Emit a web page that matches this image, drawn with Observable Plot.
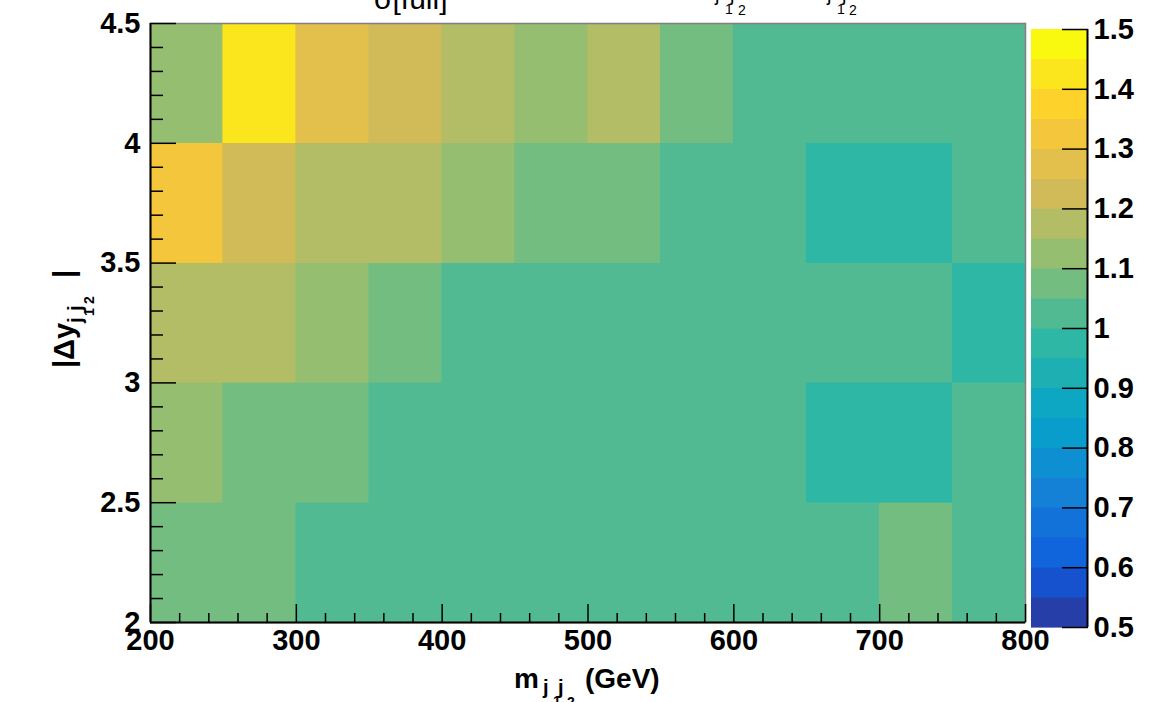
<!DOCTYPE html>
<html>
<head>
<meta charset="utf-8">
<script src="https://cdn.jsdelivr.net/npm/d3@7"></script>
<script src="https://cdn.jsdelivr.net/npm/@observablehq/plot@0.6"></script>
<style>
html, body { margin: 0; padding: 0; background: #fff; }
#wrap { position: relative; width: 1158px; height: 702px; overflow: hidden; background: #fff; }
#wrap svg { position: absolute; top: 0; }
</style>
</head>
<body>
<div id="wrap"></div>
<script>
// ---- data ----
const mjjEdges = [200, 250, 300, 350, 400, 450, 500, 550, 600, 650, 700, 750, 800];
const dyEdges = [2, 2.5, 3, 3.5, 4, 4.5];
// ratio per |Δy| bin (columns follow mjj bins)
const ratioDy2to25  = [1.07, 1.06, 1.02, 1.01, 1.02, 1.03, 1.02, 1.01, 1.02, 1.03, 1.07, 1.02];
const ratioDy25to3  = [1.12, 1.07, 1.06, 1.02, 1.01, 1.02, 1.03, 1.02, 1.01, 0.98, 0.97, 1.02];
const ratioDy3to35  = [1.18, 1.17, 1.12, 1.08, 1.03, 1.02, 1.02, 1.01, 1.02, 1.03, 1.02, 0.97];
const ratioDy35to4  = [1.32, 1.22, 1.18, 1.17, 1.13, 1.08, 1.07, 1.03, 1.02, 0.98, 0.97, 1.02];
const ratioDy4to45  = [1.12, 1.43, 1.27, 1.22, 1.17, 1.12, 1.17, 1.07, 1.02, 1.03, 1.02, 1.01];
const contourLevels = [0.5, 0.55, 0.6, 0.65, 0.7, 0.75, 0.8, 0.85, 0.9, 0.95, 1.0, 1.05, 1.1, 1.15, 1.2, 1.25, 1.3, 1.35, 1.4, 1.45, 1.5];
const xMajorTicks = [200, 300, 400, 500, 600, 700, 800];
const yMajorTicks = [2, 2.5, 3, 3.5, 4, 4.5];
const zTicks = [0.5, 0.6, 0.7, 0.8, 0.9, 1, 1.1, 1.2, 1.3, 1.4, 1.5];

// ---- palette (ROOT kBird, 20 contours) ----
function birdColors() {
  const stops = [0.0, 0.125, 0.25, 0.375, 0.5, 0.625, 0.75, 0.875, 1.0];
  const R = [0.2082, 0.0592, 0.0780, 0.0232, 0.1802, 0.5301, 0.8186, 0.9956, 0.9764];
  const G = [0.1664, 0.3599, 0.5041, 0.6419, 0.7178, 0.7492, 0.7328, 0.7862, 0.9832];
  const B = [0.5293, 0.8684, 0.8385, 0.7914, 0.6425, 0.4662, 0.3499, 0.1968, 0.0539];
  const N = 255, cols = [];
  for (let g = 1; g < stops.length; g++) {
    const n = Math.floor(N * stops[g]) - Math.floor(N * stops[g - 1]);
    for (let c = 0; c < n; c++) {
      cols.push(d3.rgb(
        255 * (R[g - 1] + c * (R[g] - R[g - 1]) / n),
        255 * (G[g - 1] + c * (G[g] - G[g - 1]) / n),
        255 * (B[g - 1] + c * (B[g] - B[g - 1]) / n)).formatHex());
    }
  }
  return cols;
}
const bird = birdColors();
const nLevels = contourLevels.length - 1;
const levelColors = d3.range(nLevels).map(i => bird[Math.floor((i + 0.99) * bird.length / nLevels)]);
const thresholds = contourLevels.slice(1, -1);
const colorScale = {type: "threshold", domain: thresholds, range: levelColors};

// ---- tables ----
const rows = [ratioDy2to25, ratioDy25to3, ratioDy3to35, ratioDy35to4, ratioDy4to45];
const cells = rows.flatMap((row, j) => row.map((v, i) => ({
  x1: mjjEdges[i], x2: mjjEdges[i + 1], y1: dyEdges[j], y2: dyEdges[j + 1], v
})));
const levels = d3.range(nLevels).map(i => ({lo: contourLevels[i], hi: contourLevels[i + 1]}));
const xMinorTicks = d3.range(200, 801, 20).filter(v => v % 100 !== 0);
const yMinorTicks = d3.range(20, 46, 1).map(v => v / 10).filter(v => !yMajorTicks.includes(v));

const FONT = "'Liberation Sans', Arial, Helvetica, sans-serif";
const LABEL_SIZE = 29;

// ---- main histogram ----
const main = Plot.plot({
  width: 1158, height: 702,
  marginLeft: 150, marginRight: 133, marginTop: 23, marginBottom: 80,
  style: {background: "transparent", fontFamily: FONT, fontWeight: "bold", fontSize: LABEL_SIZE + "px", color: "#000", overflow: "visible"},
  x: {domain: [200, 800]},
  y: {domain: [2, 4.5]},
  color: colorScale,
  marks: [
    Plot.rect(cells, {x1: "x1", x2: "x2", y1: "y1", y2: "y2", fill: "v", stroke: "v", strokeWidth: 0.6, shapeRendering: "crispEdges"}),
    Plot.frame({stroke: "#808080", strokeWidth: 1.5}),
    Plot.axisX({ticks: xMajorTicks, tickSize: -18, fill: "none", stroke: "#000", strokeWidth: 1.5, label: null}),
    Plot.axisX({ticks: xMinorTicks, tickSize: -9, fill: "none", stroke: "#000", strokeWidth: 1.5, label: null}),
    Plot.axisX({ticks: xMajorTicks, tickSize: 0, tickPadding: 7, tickFormat: d => String(d), fontSize: LABEL_SIZE, label: null}),
    Plot.axisY({ticks: yMajorTicks, tickSize: -26, fill: "none", stroke: "#000", strokeWidth: 1.5, label: null}),
    Plot.axisY({ticks: yMinorTicks, tickSize: -13, fill: "none", stroke: "#000", strokeWidth: 1.5, label: null}),
    Plot.axisY({ticks: yMajorTicks, tickSize: 0, tickPadding: 10, tickFormat: d => String(d), fontSize: LABEL_SIZE, label: null}),
    Plot.ruleX([200], {stroke: "#000", strokeWidth: 2}),
    Plot.ruleY([2], {stroke: "#000", strokeWidth: 2})
  ]
});
main.style.left = "0px";
document.getElementById("wrap").appendChild(main);

// ---- colour bar ----
const bar = Plot.plot({
  width: 127, height: 702,
  marginLeft: 0, marginRight: 71, marginTop: 29, marginBottom: 75,
  style: {background: "transparent", fontFamily: FONT, fontWeight: "bold", fontSize: LABEL_SIZE + "px", color: "#000", overflow: "visible"},
  x: {domain: [0, 1], axis: null},
  y: {domain: [0.5, 1.5], axis: null},
  color: colorScale,
  marks: [
    Plot.rect(levels, {y1: "lo", y2: "hi", fill: d => (d.lo + d.hi) / 2, stroke: d => (d.lo + d.hi) / 2, strokeWidth: 0.6, shapeRendering: "crispEdges"}),
    Plot.axisY({anchor: "right", ticks: zTicks, tickSize: -26, fill: "none", stroke: "#000", strokeWidth: 1.5, label: null}),
    Plot.axisY({anchor: "right", ticks: zTicks, tickSize: 0, tickPadding: 6, tickFormat: d => String(d), fontSize: LABEL_SIZE, textAnchor: "start", label: null}),
    Plot.ruleX([1], {stroke: "#000", strokeWidth: 2})
  ]
});
bar.style.left = "1031px";
document.getElementById("wrap").appendChild(bar);

// ---- texts with sub/superscripts ----
const svg = d3.select(main);
function put(g, str, x, y, size, weight) {
  g.append("text").attr("x", x).attr("y", y).attr("font-size", size)
    .attr("font-weight", weight).attr("text-anchor", "start").text(str);
}
// title (mostly above the visible canvas)
const tg = svg.append("g").attr("font-family", FONT).attr("fill", "#000");
put(tg, "σ[full]", 374, 9, 30, "normal");
put(tg, "m", 690, -9, 30, "normal");
put(tg, "j", 715, 1, 20, "normal");
put(tg, "1", 725, 14, 14, "normal");
put(tg, "j", 730, 1, 20, "normal");
put(tg, "2", 738, 15, 14, "normal");
put(tg, "|Δy", 784, -9, 30, "normal");
put(tg, "j", 827, 1, 20, "normal");
put(tg, "1", 837, 14, 14, "normal");
put(tg, "j", 842, 1, 20, "normal");
put(tg, "2", 849, 15, 14, "normal");
put(tg, "|", 872, -9, 30, "normal");

// x axis title
const xg = svg.append("g").attr("font-family", FONT).attr("fill", "#000");
put(xg, "m", 514, 688, 28, "bold");
put(xg, "j", 543, 694, 20, "bold");
put(xg, "1", 553, 706, 14, "bold");
put(xg, "j", 558, 694, 20, "bold");
put(xg, "2", 567, 707, 14, "bold");
put(xg, "(GeV)", 585, 688, 28, "bold");

// y axis title (rotated)
const yg = svg.append("g").attr("font-family", FONT).attr("fill", "#000")
  .attr("transform", "translate(74,368) rotate(-90)");
put(yg, "|Δy", 0, 0, 29, "bold");
put(yg, "j", 45, 8, 20, "bold");
put(yg, "1", 52, 20, 14, "bold");
put(yg, "j", 57, 8, 20, "bold");
put(yg, "2", 64, 20, 14, "bold");
put(yg, "|", 90, 0, 29, "bold");
</script>
</body>
</html>
